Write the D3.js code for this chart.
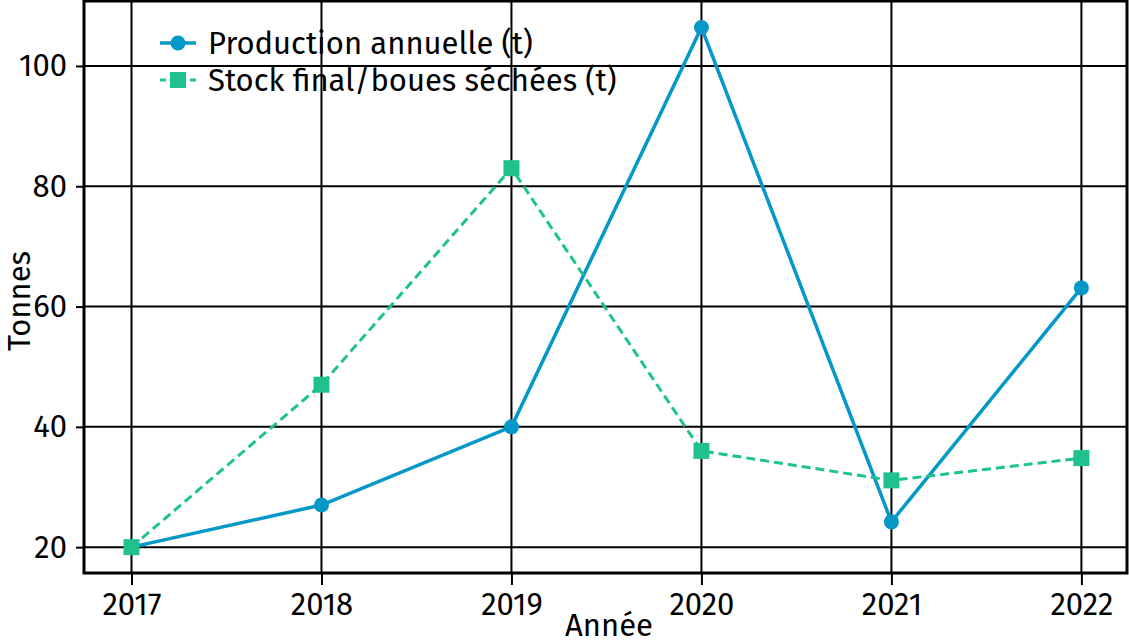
<!DOCTYPE html>
<html><head><meta charset="utf-8">
<script src="https://cdn.jsdelivr.net/npm/d3@7"></script>
<style>
html,body{margin:0;padding:0;background:#fff;}
svg{display:block;}
text{font-family:"Fira Sans","Noto Sans","Open Sans",sans-serif;fill:#000;}
</style></head><body>
<svg id="chart" width="1129" height="643"></svg>
<script>
const years = [2017, 2018, 2019, 2020, 2021, 2022];
const production = [20, 27, 40, 106.4, 24.2, 63.1];
const stock = [20, 47, 83, 36, 31.1, 34.8];
const yTicks = [20, 40, 60, 80, 100];
const seriesNames = ["Production annuelle (t)", "Stock final/boues séchées (t)"];
const colors = ["#0498c8", "#1fc28e"];

const svg = d3.select("#chart");
const m = {left: 84, right: 2, top: 1, bottom: 70};
const W = 1129, H = 643;
const FS = "31px";
const x = d3.scaleLinear().domain([2016.75, 2022.24]).range([m.left, W - m.right]);
const y = d3.scaleLinear().domain([15.7, 110.8]).range([H - m.bottom, m.top]);

const g = svg.append("g");
// grid
g.selectAll(".vg").data(years).enter().append("line")
  .attr("x1", d => x(d)).attr("x2", d => x(d)).attr("y1", y.range()[1]).attr("y2", y.range()[0])
  .attr("stroke", "#000").attr("stroke-width", 2);
g.selectAll(".hg").data(yTicks).enter().append("line")
  .attr("y1", d => y(d)).attr("y2", d => y(d)).attr("x1", x.range()[0]).attr("x2", x.range()[1])
  .attr("stroke", "#000").attr("stroke-width", 2);

// frame
g.append("rect").attr("x", x.range()[0]).attr("y", y.range()[1])
  .attr("width", x.range()[1] - x.range()[0]).attr("height", y.range()[0] - y.range()[1])
  .attr("fill", "none").attr("stroke", "#000").attr("stroke-width", 3);

// axes
const xAxis = d3.axisBottom(x).tickValues(years).tickFormat(d3.format("d")).tickSize(12).tickPadding(8);
const yAxis = d3.axisLeft(y).tickValues(yTicks).tickSize(8).tickPadding(9);
const xa = svg.append("g").attr("transform", `translate(0,${y.range()[0]})`).call(xAxis);
const ya = svg.append("g").attr("transform", `translate(${x.range()[0]},0)`).call(yAxis);
[xa, ya].forEach(a => {
  a.select(".domain").remove();
  a.selectAll(".tick line").attr("stroke", "#000").attr("stroke-width", 2);
  a.selectAll(".tick text").style("font-size", FS).attr("fill", "#000");
});

svg.append("text").attr("x", 609).attr("y", 636).attr("text-anchor", "middle")
  .style("font-size", FS).text("Année");
svg.append("text").attr("transform", `translate(30,${(y.range()[0] + y.range()[1]) / 2 + 14}) rotate(-90)`)
  .attr("text-anchor", "middle").style("font-size", FS).text("Tonnes");

// lines
const line = d3.line().x((d, i) => x(years[i])).y(d => y(d));
svg.append("path").datum(production).attr("d", line).attr("fill", "none")
  .attr("stroke", colors[0]).attr("stroke-width", 3.5);
svg.append("path").datum(stock).attr("d", line).attr("fill", "none")
  .attr("stroke", colors[1]).attr("stroke-width", 3).attr("stroke-dasharray", "9,5");

svg.selectAll(".pc").data(production).enter().append("circle")
  .attr("cx", (d, i) => x(years[i])).attr("cy", d => y(d)).attr("r", 7.5).attr("fill", colors[0]);
svg.selectAll(".ps").data(stock).enter().append("rect")
  .attr("x", (d, i) => x(years[i]) - 8).attr("y", d => y(d) - 8).attr("width", 16).attr("height", 16)
  .attr("fill", colors[1]);

// legend
const lg = svg.append("g");
const rows = [43, 80];
lg.append("line").attr("x1", 160).attr("x2", 196).attr("y1", rows[0]).attr("y2", rows[0])
  .attr("stroke", colors[0]).attr("stroke-width", 3.5);
lg.append("circle").attr("cx", 178).attr("cy", rows[0]).attr("r", 7.5).attr("fill", colors[0]);
lg.append("line").attr("x1", 160).attr("x2", 196).attr("y1", rows[1]).attr("y2", rows[1])
  .attr("stroke", colors[1]).attr("stroke-width", 3).attr("stroke-dasharray", "6,4");
lg.append("rect").attr("x", 170).attr("y", rows[1] - 8).attr("width", 16).attr("height", 16).attr("fill", colors[1]);
seriesNames.forEach((n, i) => {
  lg.append("text").attr("x", 208).attr("y", rows[i]).attr("dy", "0.35em")
    .style("font-size", FS).text(n);
});
</script></body></html>
